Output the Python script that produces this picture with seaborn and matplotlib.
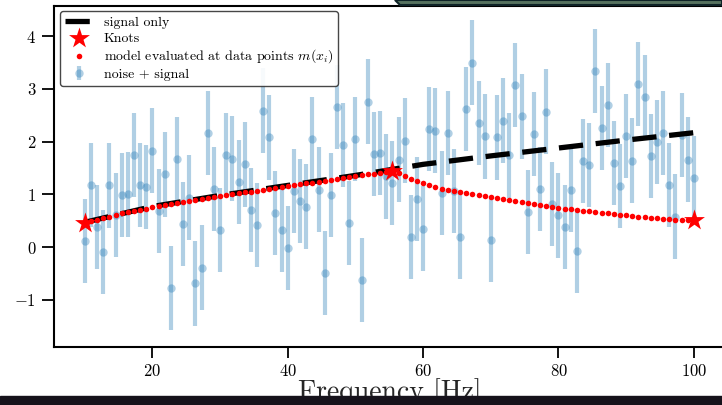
import numpy as np
import seaborn as sns
import matplotlib.pyplot as plt
from matplotlib.patches import Rectangle, Polygon

# frequency grid of the noisy data (100 evenly spaced points, 10..100 Hz)
freq = np.linspace(10, 100, 100)

# noisy data points
data_y = [0.12, 1.18, 0.38, -0.09, 1.17, 0.61, 0.99, 1.00, 1.75, 1.18,
          1.14, 1.83, 0.69, 1.38, -0.77, 1.67, 0.44, 0.94, -0.69, -0.39,
          2.17, 1.10, 0.32, 1.75, 1.68, 1.23, 1.57, 0.71, 0.42, 2.59,
          2.08, 0.65, 0.32, -0.02, 1.07, 0.87, 0.77, 2.05, 1.09, -0.49,
          0.99, 2.66, 1.94, 0.46, 2.05, -0.62, 2.76, 1.76, 1.78, 1.34,
          1.21, 1.66, 2.02, 0.19, 0.91, 0.35, 2.24, 2.21, 1.03, 2.16,
          1.06, 0.20, 2.62, 3.50, 2.35, 2.10, 0.14, 2.08, 2.40, 1.74,
          3.08, 2.48, 0.66, 2.15, 1.10, 2.57, 0.82, 0.60, 0.38, 1.09,
          -0.08, 1.63, 1.56, 3.34, 2.26, 2.69, 1.60, 1.16, 2.11, 1.64,
          3.09, 2.85, 1.73, 2.00, 2.16, 1.18, 0.58, 2.13, 1.66, 1.31]
data_err = 0.8

# model evaluated at the data points
model_y = [0.46, 0.49, 0.52, 0.55, 0.58, 0.61, 0.64, 0.66, 0.68, 0.71,
           0.73, 0.76, 0.78, 0.80, 0.82, 0.84, 0.86, 0.88, 0.89, 0.91,
           0.93, 0.95, 0.97, 0.99, 1.00, 1.02, 1.04, 1.05, 1.07, 1.09,
           1.11, 1.12, 1.14, 1.16, 1.17, 1.19, 1.21, 1.22, 1.24, 1.26,
           1.28, 1.29, 1.31, 1.33, 1.34, 1.36, 1.38, 1.39, 1.41, 1.43,
           1.45, 1.40, 1.35, 1.30, 1.25, 1.21, 1.17, 1.14, 1.11, 1.09,
           1.07, 1.05, 1.03, 1.01, 0.99, 0.97, 0.95, 0.93, 0.91, 0.89,
           0.87, 0.85, 0.83, 0.81, 0.79, 0.78, 0.76, 0.74, 0.73, 0.72,
           0.70, 0.69, 0.68, 0.66, 0.65, 0.64, 0.62, 0.61, 0.60, 0.59,
           0.58, 0.57, 0.56, 0.55, 0.54, 0.53, 0.52, 0.52, 0.51, 0.51]

# signal only
signal_x = [10, 20, 30, 40, 50, 60, 70, 80, 90, 100]
signal_y = [0.47, 0.77, 0.98, 1.17, 1.36, 1.57, 1.73, 1.88, 2.03, 2.17]

# knots
knot_x = [10, 55.45, 100]
knot_y = [0.46, 1.45, 0.51]

sns.set_theme(style="ticks")
plt.rcParams.update({
    "font.family": "serif",
    "font.serif": ["cmr10"],
    "mathtext.fontset": "cm",
    "axes.formatter.use_mathtext": True,
    "axes.unicode_minus": True,
    "axes.edgecolor": "black",
    "axes.linewidth": 1.5,
    "text.color": "black",
    "xtick.color": "black",
    "ytick.color": "black",
    "xtick.major.size": 8,
    "ytick.major.size": 9,
    "xtick.major.width": 1.3,
    "ytick.major.width": 1.3,
    "xtick.labelsize": 12,
    "ytick.labelsize": 12,
    "xtick.major.pad": 3.5,
    "ytick.major.pad": 4,
})

fig = plt.figure(figsize=(7.22, 4.05), dpi=100)
ax = fig.add_axes([54.3 / 722, 58.3 / 405, 670 / 722, 341 / 405])

ax.errorbar(freq, data_y, yerr=data_err, fmt="o", color="#1f77b4", alpha=0.35,
            ms=6, mew=0, elinewidth=3.0, capsize=0, zorder=1,
            label="noise + signal")

sns.lineplot(x=signal_x, y=signal_y, color="black", lw=3.8, ax=ax,
             label="signal only", zorder=2)
ax.lines[-1].set_linestyle((0, (4.6, 2.4)))

sns.scatterplot(x=freq, y=model_y, color="red", s=16, linewidth=0, ax=ax,
                label="model evaluated at data points $m(x_i)$", zorder=4)
sns.scatterplot(x=knot_x, y=knot_y, color="red", marker="*", s=250,
                linewidth=0, ax=ax, label="Knots", zorder=5)

ax.set_xlim(5.5, 104.5)
ax.set_ylim(-1.89, 4.58)
ax.set_xticks([20, 40, 60, 80, 100])
ax.set_yticks([-1, 0, 1, 2, 3, 4])
ax.set_xlabel("Frequency [Hz]", fontsize=20, labelpad=0)
ax.set_ylabel("")

handles, labels = ax.get_legend_handles_labels()
order = ["signal only", "Knots", "model evaluated at data points $m(x_i)$",
         "noise + signal"]
hmap = dict(zip(labels, handles))
leg = ax.legend([hmap[l] for l in order], order, loc="upper left",
                fontsize=10, frameon=True, fancybox=True, framealpha=0.9,
                edgecolor="0.2", borderaxespad=0.4, labelspacing=0.22,
                borderpad=0.35)
leg.get_frame().set_linewidth(1.0)

# screenshot edges: window bar at the top right and dark strip at the bottom
fig.patches.append(Rectangle((0, 0), 1, 9 / 405, transform=fig.transFigure,
                             color="#16121b", zorder=10))
fig.patches.append(Polygon([(395 / 722, 1), (400 / 722, 400 / 405),
                            (1, 400 / 405), (1, 1)], closed=True,
                           transform=fig.transFigure, facecolor="#56725f",
                           edgecolor="#0e2327", lw=1.5, zorder=10))

fig.savefig("out.png", dpi=100)
